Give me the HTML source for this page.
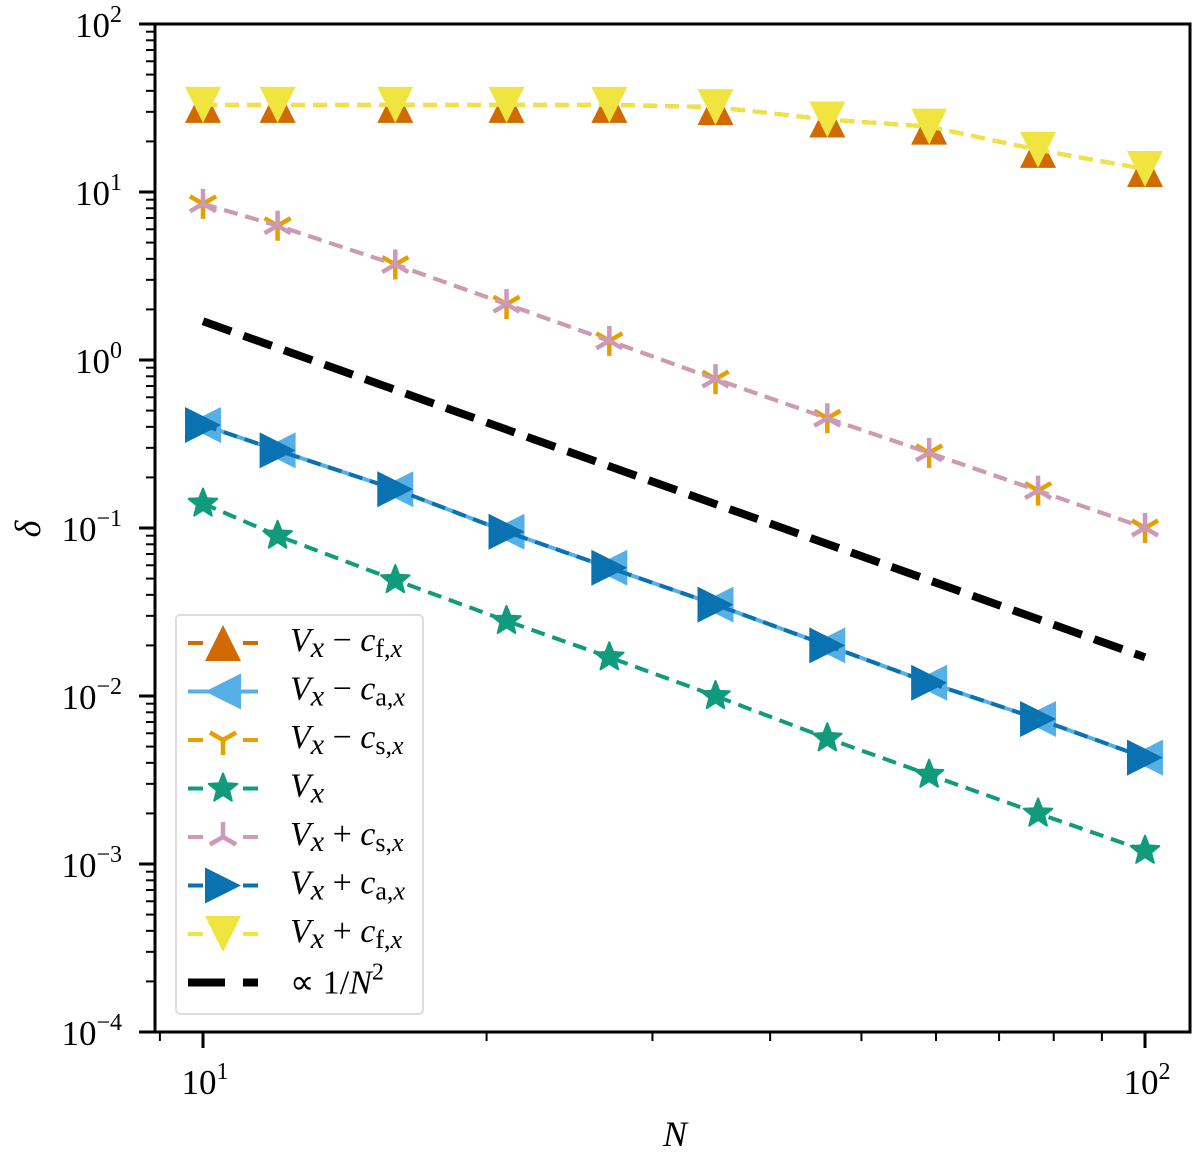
<!DOCTYPE html>
<html><head><meta charset="utf-8"><style>
body{margin:0;background:#fff;}
svg text{font-family:"Liberation Serif","Times New Roman",serif;fill:#000;}
</style></head><body>
<svg id="chart" width="1200" height="1152" viewBox="0 0 1200 1152" xmlns="http://www.w3.org/2000/svg" font-family="Liberation Serif, serif">
<g id="plot"></g>
<g id="axes"></g>
<g id="legend"></g>
</svg>
<script>
const N = [10, 12, 16, 21, 27, 35, 46, 59, 77, 100];
const fastMinus = [33, 33, 33, 33, 33, 32, 27, 24.5, 17.8, 13.7];
const alfvenMinus = [0.41, 0.29, 0.17, 0.095, 0.058, 0.035, 0.020, 0.012, 0.0073, 0.0043];
const slowMinus = [8.5, 6.3, 3.7, 2.15, 1.3, 0.77, 0.45, 0.28, 0.167, 0.1];
const entropy = [0.14, 0.09, 0.049, 0.028, 0.017, 0.010, 0.0056, 0.0034, 0.002, 0.0012];
const slowPlus = [8.5, 6.3, 3.7, 2.15, 1.3, 0.77, 0.45, 0.28, 0.167, 0.1];
const alfvenPlus = [0.41, 0.29, 0.17, 0.095, 0.058, 0.035, 0.020, 0.012, 0.0073, 0.0043];
const fastPlus = [33, 33, 33, 33, 33, 32, 27, 24.5, 17.8, 13.7];
const refN = [10, 100];
const refVals = [1.7, 0.017];
const yTickExp = [2, 1, 0, -1, -2, -3, -4];
const xTickExp = [1, 2];

const NS = 'http://www.w3.org/2000/svg';
const L = 155, R = 1190, T = 24, B = 1032;
const xs = v => 203 + (Math.log10(v) - 1) * 942;
const ys = v => T + (2 - Math.log10(v)) * 168;
function mk(tag, attrs, parent) {
  const e = document.createElementNS(NS, tag);
  for (const k in attrs) e.setAttribute(k, attrs[k]);
  parent.appendChild(e);
  return e;
}
const plot = document.getElementById('plot');
const axes = document.getElementById('axes');
const legend = document.getElementById('legend');

function marker(type, x, y, color, parent) {
  const h = 18;
  let el;
  if (type === 'tu') el = mk('polygon', {points: `${x},${y-h} ${x-h},${y+h} ${x+h},${y+h}`, fill: color}, parent);
  else if (type === 'td') el = mk('polygon', {points: `${x},${y+h} ${x-h},${y-h} ${x+h},${y-h}`, fill: color}, parent);
  else if (type === 'tl') el = mk('polygon', {points: `${x-h},${y} ${x+h},${y-h} ${x+h},${y+h}`, fill: color}, parent);
  else if (type === 'tr') el = mk('polygon', {points: `${x+h},${y} ${x-h},${y-h} ${x-h},${y+h}`, fill: color}, parent);
  else if (type === 'star') {
    let p = [];
    for (let i = 0; i < 10; i++) {
      const r = i % 2 ? 6.5 : 15, a = -Math.PI / 2 + i * Math.PI / 5;
      p.push((x + r * Math.cos(a)).toFixed(1) + ',' + (y + r * Math.sin(a)).toFixed(1));
    }
    el = mk('polygon', {points: p.join(' '), fill: color, stroke: color, 'stroke-width': 2, 'stroke-linejoin': 'round'}, parent);
  } else if (type === 'Y' || type === 'A') {
    const s = type === 'Y' ? 1 : -1, r = 15;
    const d = `M${x},${y} L${x},${y+s*r} M${x},${y} L${x-r*0.87},${y-s*r*0.5} M${x},${y} L${x+r*0.87},${y-s*r*0.5}`;
    el = mk('path', {d: d, stroke: color, 'stroke-width': 4.5, fill: 'none'}, parent);
  }
  
  
}

const series = [
  {name: 'fast-minus', vals: fastMinus, color: '#d16a00', m: 'tu', dash: '14 8', label: ['−', 'f']},
  {name: 'alfven-minus', vals: alfvenMinus, color: '#56b0e6', m: 'tl', dash: '', label: ['−', 'a']},
  {name: 'slow-minus', vals: slowMinus, color: '#e69f00', m: 'Y', dash: '14 8', label: ['−', 's']},
  {name: 'entropy', vals: entropy, color: '#109c7c', m: 'star', dash: '14 8', label: null},
  {name: 'slow-plus', vals: slowPlus, color: '#cc99b8', m: 'A', dash: '14 8', label: ['+', 's']},
  {name: 'alfven-plus', vals: alfvenPlus, color: '#0a72b0', m: 'tr', dash: '14 8', label: ['+', 'a']},
  {name: 'fast-plus', vals: fastPlus, color: '#f0e440', m: 'td', dash: '14 8', label: ['+', 'f']},
];

const ref = mk('line', {x1: xs(refN[0]), y1: ys(refVals[0]), x2: xs(refN[1]), y2: ys(refVals[1]), stroke: '#000', 'stroke-width': 8, 'stroke-dasharray': '30 13'}, plot);



series.forEach(s => {
  const g = mk('g', {}, plot);
  
  
  const pl = mk('polyline', {points: N.map((n, i) => xs(n) + ',' + ys(s.vals[i])).join(' '), fill: 'none', stroke: s.color, 'stroke-width': 4}, g);
  if (s.dash) pl.setAttribute('stroke-dasharray', s.dash);
  
  
  N.forEach((n, i) => marker(s.m, xs(n), ys(s.vals[i]), s.color, g));
});

mk('rect', {x: L, y: T, width: R - L, height: B - T, fill: 'none', stroke: '#000', 'stroke-width': 3}, axes);
yTickExp.forEach(e => {
  const y = ys(Math.pow(10, e));
  mk('line', {x1: L - 16, y1: y, x2: L, y2: y, stroke: '#000', 'stroke-width': 3}, axes);
  const t = mk('text', {x: 122, y: y + 13, 'font-size': 35, 'text-anchor': 'end'}, axes);
  
  
  t.innerHTML = '10<tspan dy="-15" font-size="24">' + (e < 0 ? '−' + (-e) : e) + '</tspan>';
  if (e > -4) for (let k = 2; k <= 9; k++) {
    const yy = ys(Math.pow(10, e - 1) * k);
    mk('line', {x1: L - 9, y1: yy, x2: L, y2: yy, stroke: '#000', 'stroke-width': 2}, axes);
  }
});
xTickExp.forEach(e => {
  const x = xs(Math.pow(10, e));
  mk('line', {x1: x, y1: B, x2: x, y2: B + 16, stroke: '#000', 'stroke-width': 3}, axes);
  const t = mk('text', {x: x + 2, y: B + 62, 'font-size': 35, 'text-anchor': 'middle'}, axes);
  
  
  t.innerHTML = '10<tspan dy="-15" font-size="24">' + e + '</tspan>';
});
[9, 20, 30, 40, 50, 60, 70, 80, 90].forEach(v => {
  const x = xs(v);
  mk('line', {x1: x, y1: B, x2: x, y2: B + 9, stroke: '#000', 'stroke-width': 2}, axes);
});
const xl = mk('text', {x: 675, y: 1146, 'font-size': 36, 'font-style': 'italic', 'text-anchor': 'middle'}, axes);


xl.textContent = 'N';
const yl = mk('text', {x: 40, y: 529, 'font-size': 36, 'font-style': 'italic', 'text-anchor': 'middle', transform: 'rotate(-90 40 529)'}, axes);


yl.textContent = 'δ';

mk('rect', {x: 176, y: 615, width: 247, height: 399, rx: 4, fill: '#fff', 'fill-opacity': 0.85, stroke: '#ddd', 'stroke-width': 2}, legend);
series.forEach((s, i) => {
  const y = 643 + i * 48.5;
  const g = mk('g', {}, legend);
  
  
  if (s.dash) {
    mk('line', {x1: 188, y1: y, x2: 203, y2: y, stroke: s.color, 'stroke-width': 4}, g);
    mk('line', {x1: 243, y1: y, x2: 258, y2: y, stroke: s.color, 'stroke-width': 4}, g);
  } else {
    mk('line', {x1: 188, y1: y, x2: 258, y2: y, stroke: s.color, 'stroke-width': 4}, g);
  }
  marker(s.m, 223, y, s.color, g);
  const t = mk('text', {x: 290, y: y + 8, 'font-size': 34}, g);
  
  
  let h = '<tspan font-style="italic">V</tspan><tspan font-style="italic" font-size="30" dy="6">x</tspan>';
  if (s.label) h += '<tspan dy="-6"> ' + s.label[0] + ' </tspan><tspan font-style="italic">c</tspan><tspan font-size="26" dy="6">' + s.label[1] + ',</tspan><tspan font-style="italic" font-size="26">x</tspan>';
  t.innerHTML = h;
});
{
  const y = 643 + 7 * 48.5;
  const g = mk('g', {}, legend);
  
  
  mk('line', {x1: 188, y1: y, x2: 225, y2: y, stroke: '#000', 'stroke-width': 8}, g);
  mk('line', {x1: 243, y1: y, x2: 258, y2: y, stroke: '#000', 'stroke-width': 8}, g);
  const t = mk('text', {x: 290, y: y + 11, 'font-size': 34}, g);
  
  
  t.innerHTML = '∝ 1/<tspan font-style="italic">N</tspan><tspan dy="-14" font-size="24">2</tspan>';
}
</script>
</body></html>
